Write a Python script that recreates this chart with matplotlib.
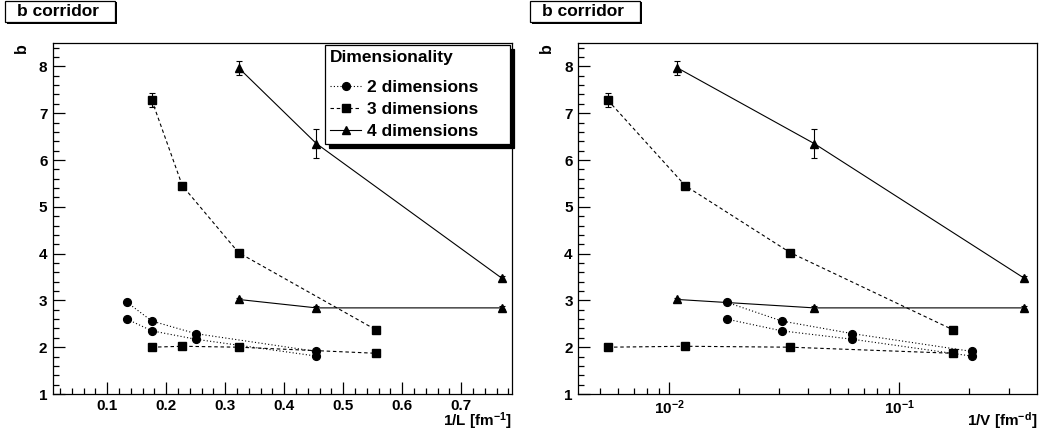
import numpy as np
import matplotlib
matplotlib.use("Agg")
import matplotlib.pyplot as plt
from matplotlib import ticker
from matplotlib.patches import Rectangle

plt.rcParams["font.family"] = ["Liberation Sans", "DejaVu Sans"]
plt.rcParams["font.weight"] = "bold"
plt.rcParams["mathtext.fontset"] = "custom"
plt.rcParams["mathtext.rm"] = "Liberation Sans:bold"
plt.rcParams["mathtext.bf"] = "Liberation Sans:bold"
plt.rcParams["mathtext.default"] = "rm"
plt.rcParams["lines.scale_dashes"] = False

# --- data: lattice sizes L [fm] and b corridor values ---
L2 = np.array([7.5, 5.7, 4.0, 2.2])
b2_up = [2.96, 2.56, 2.29, 1.91]
b2_lo = [2.60, 2.35, 2.17, 1.81]
e2_up = [0.03, 0.03, 0.03, 0.03]
e2_lo = [0.03, 0.03, 0.03, 0.03]

L3 = np.array([5.7, 4.4, 3.1, 1.8])
b3_up = [7.28, 5.45, 4.02, 2.37]
b3_lo = [2.00, 2.02, 2.00, 1.87]
e3_up = [0.15, 0.05, 0.05, 0.03]
e3_lo = [0.03, 0.03, 0.03, 0.03]

L4 = np.array([3.1, 2.2, 1.3])
b4_up = [7.97, 6.35, 3.47]
b4_lo = [3.02, 2.84, 2.84]
e4_up = [0.15, 0.31, 0.05]
e4_lo = [0.03, 0.03, 0.03]

labels = ["2 dimensions", "3 dimensions", "4 dimensions"]

W, H = 1044, 438
fig = plt.figure(figsize=(W / 100, H / 100), dpi=100)


def px(x0, y0, w, h):
    """pixel box (top-left origin) -> figure fraction rect"""
    return [x0 / W, 1 - (y0 + h) / H, w / W, h / H]


ax1 = fig.add_axes(px(53, 43, 459, 351))
ax2 = fig.add_axes(px(578.3, 43, 459, 351))

styles = {
    2: dict(marker="o", ls=(0, (0.8, 1.6))),
    3: dict(marker="s", ls=(0, (2.5, 2.0))),
    4: dict(marker="^", ls="-"),
}
series = [
    (2, L2, b2_up, e2_up), (2, L2, b2_lo, e2_lo),
    (3, L3, b3_up, e3_up), (3, L3, b3_lo, e3_lo),
    (4, L4, b4_up, e4_up), (4, L4, b4_lo, e4_lo),
]

for ax, logx in [(ax1, False), (ax2, True)]:
    handles = {}
    for d, L, b, e in series:
        x = 1.0 / L if not logx else 1.0 / L ** d
        eb = ax.errorbar(x, b, yerr=e, color="k", lw=0.8, ms=5.6,
                         capsize=2.2, elinewidth=0.8, capthick=0.8,
                         **styles[d])
        handles.setdefault(d, eb[0])

    ax.set_ylim(1, 8.5)
    ax.yaxis.set_major_locator(ticker.MultipleLocator(1))
    ax.yaxis.set_minor_locator(ticker.MultipleLocator(0.2))
    if logx:
        ax.set_xscale("log")
        ax.set_xlim(0.00402, 0.398)
        ax.xaxis.set_major_locator(ticker.LogLocator(base=10))
        ax.xaxis.set_minor_locator(ticker.LogLocator(base=10, subs=np.arange(2, 10)))
        ax.xaxis.set_major_formatter(ticker.FuncFormatter(
            lambda v, p: rf"$10^{{{int(round(np.log10(v)))}}}$"))
        ax.xaxis.set_minor_formatter(ticker.NullFormatter())
        xlab = r"1/V [fm$^{-d}$]"
    else:
        ax.set_xlim(0.008, 0.786)
        ax.xaxis.set_major_locator(ticker.MultipleLocator(0.1))
        ax.xaxis.set_minor_locator(ticker.MultipleLocator(0.02))
        xlab = r"1/L [fm$^{-1}$]"

    ax.tick_params(which="both", direction="in", top=False, right=False,
                   width=0.9, labelsize=11)
    ax.tick_params(which="major", length=8.5)
    ax.tick_params(which="minor", length=4.3)
    ax.tick_params(axis="x", pad=3.5)
    ax.tick_params(axis="y", pad=4)
    for s in ax.spines.values():
        s.set_linewidth(0.9)

    ax.text(1.0, -0.09, xlab, transform=ax.transAxes, ha="right",
            va="baseline", fontsize=11, fontweight="bold")
    ax.text(-0.069, 1.0, "b", transform=ax.transAxes, rotation=90,
            ha="center", va="top", fontsize=11.5, fontweight="bold")

    if not logx:
        leg = ax.legend([handles[2], handles[3], handles[4]], labels,
                        title="Dimensionality", loc="upper left",
                        bbox_to_anchor=(0.5926, 0.70, 0.403, 0.2943),
                        mode="expand", alignment="left", numpoints=1,
                        fontsize=12.5, title_fontsize=12.5,
                        handlelength=1.8, handletextpad=0.3,
                        labelspacing=0.38, borderpad=0.3, borderaxespad=0,
                        fancybox=False, framealpha=1, edgecolor="k",
                        shadow={"color": "k", "alpha": 1, "ox": 3, "oy": -3})
        leg.get_frame().set_linewidth(0.9)
        leg.get_title().set_fontweight("bold")
        # extra gap between the title and the entries, as in the ROOT legend
        leg._legend_box.sep = 0.38 * 12.5 + 6


# --- title boxes with shadow, ROOT style ---
def title_box(x0, text):
    s = px(x0 + 1.5, 2, 110.5, 21.5)
    fig.add_artist(Rectangle((s[0], s[1]), s[2], s[3], transform=fig.transFigure,
                             facecolor="k", edgecolor="k", lw=0))
    r = px(x0, 0.7, 110, 21.3)
    fig.add_artist(Rectangle((r[0], r[1]), r[2], r[3], transform=fig.transFigure,
                             facecolor="white", edgecolor="k", lw=0.9))
    fig.text((x0 + 12) / W, 1 - 12 / H, text, ha="left", va="center",
             fontsize=12.5, fontweight="bold")


title_box(5.3, "b corridor")
title_box(530, "b corridor")

fig.savefig("out.png", dpi=100)
